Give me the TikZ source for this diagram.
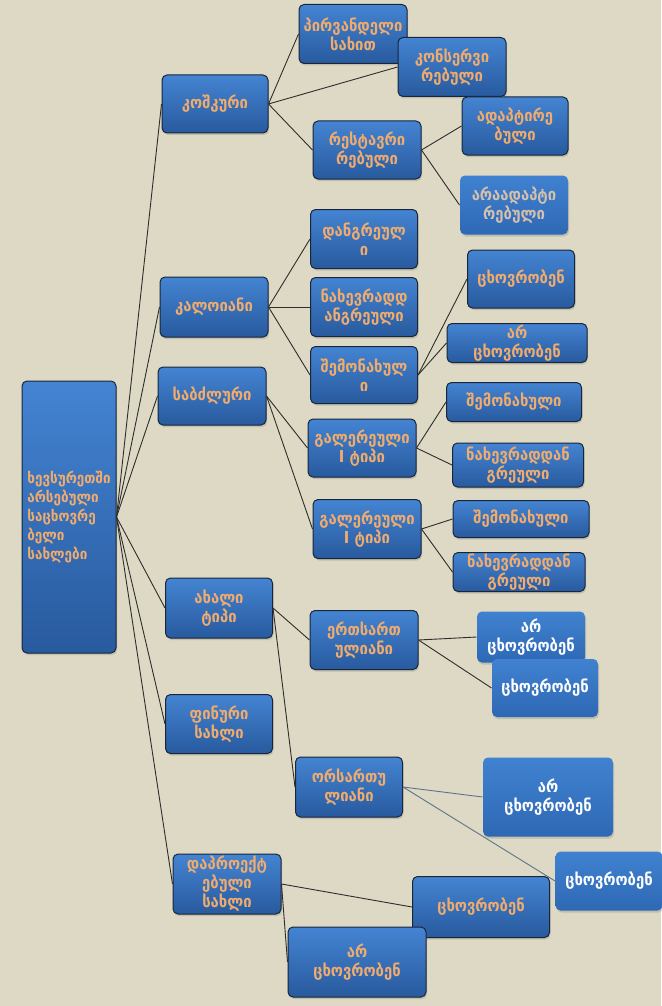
\documentclass[tikz,border=0pt]{standalone}
\usepackage{fontspec}
\newfontfamily\geo{DejaVu Sans Condensed}
\usetikzlibrary{shadows}
\definecolor{bgc}{RGB}{221,217,196}
\definecolor{boxtop}{RGB}{68,132,210}
\definecolor{boxbot}{RGB}{40,90,158}
\definecolor{lighttop}{RGB}{64,130,208}
\definecolor{lightbot}{RGB}{46,104,180}
\definecolor{boxline}{RGB}{25,38,58}
\definecolor{txt}{RGB}{240,172,110}
\definecolor{paletxt}{RGB}{214,192,172}
\definecolor{linkc}{RGB}{45,45,45}
\definecolor{bluelink}{RGB}{95,115,140}

\begin{document}
\begin{tikzpicture}[x=1pt, y=-1pt,
  box/.style={draw=boxline, line width=1pt, rounded corners=5pt, top color=boxtop, bottom color=boxbot, text=txt, align=center, inner sep=0pt, minimum width=108pt, minimum height=58pt, font=\geo\bfseries\fontsize{16.5}{19}\selectfont, drop shadow={opacity=0.3, shadow xshift=1pt, shadow yshift=-2pt}},
  lightbox/.style={box, draw=none, top color=lighttop, bottom color=lightbot, text=white},
  link/.style={draw=linkc, line width=0.9pt}]
\fill[bgc] (0,0) rectangle (661,1006);
\useasboundingbox (0,0) rectangle (661,1006);
\node[box, minimum width=94pt, minimum height=272pt, align=left, font=\geo\bfseries\fontsize{15}{19}\selectfont] (0) at (69,517) {ხევსურეთში\\არსებული\\საცხოვრე\\ბელი\\სახლები};
\node[box, minimum width=106pt] (1) at (215,104) {კოშკური};
\node[box, minimum height=60pt] (2) at (214,307) {კალოიანი};
\node[box] (3) at (212,396) {საბძლური};
\node[box, minimum width=107pt, minimum height=60pt] (4) at (219,608) {ახალი\\ტიპი};
\node[box, minimum width=107pt, minimum height=59pt] (5) at (219,724) {ფინური\\სახლი};
\node[box, minimum height=60pt] (6) at (227,884) {დაპროექტ\\ებული\\სახლი};
\node[box, minimum height=59pt] (11) at (353,34) {პირვანდელი\\სახით};
\node[box, minimum height=59pt] (12) at (452,67) {კონსერვი\\რებული};
\node[box] (13) at (367,150) {რესტავრი\\რებული};
\node[box, minimum width=106pt] (131) at (515,126) {ადაპტირე\\ბული};
\node[lightbox, minimum height=59pt, text=paletxt] (132) at (514,205) {არაადაპტი\\რებული};
\node[box, minimum width=107pt, minimum height=59pt] (21) at (364,239) {დანგრეულ\\ი};
\node[box, minimum width=107pt, minimum height=59pt] (22) at (364,307) {ნახევრადდ\\ანგრეული};
\node[box, minimum width=107pt, minimum height=57pt] (23) at (364,375) {შემონახულ\\ი};
\node[box, minimum width=107pt] (231) at (521,279) {ცხოვრობენ};
\node[box, minimum width=140pt, minimum height=39pt] (232) at (517,343) {არ\\ცხოვრობენ};
\node[box] (31) at (362,448) {გალერეული\\I ტიპი};
\node[box, minimum width=135pt, minimum height=39pt] (311) at (514,402) {შემონახული};
\node[box, minimum width=131pt, minimum height=44pt] (312) at (518,465) {ნახევრადდან\\გრეული};
\node[box, minimum height=59pt] (32) at (367,529) {გალერეული\\I ტიპი};
\node[box, minimum width=136pt, minimum height=37pt] (321) at (521,519) {შემონახული};
\node[box, minimum width=132pt, minimum height=39pt] (322) at (519,572) {ნახევრადდან\\გრეული};
\node[box, minimum height=59pt] (41) at (364,640) {ერთსართ\\ულიანი};
\node[lightbox, minimum height=51pt] (411) at (531,637) {არ\\ცხოვრობენ};
\node[lightbox, minimum width=106pt] (412) at (545,688) {ცხოვრობენ};
\node[box, minimum width=107pt, minimum height=60pt] (42) at (349,787) {ორსართუ\\ლიანი};
\node[lightbox, minimum width=130pt, minimum height=79pt] (421) at (548,797) {არ\\ცხოვრობენ};
\node[lightbox, minimum width=107pt, minimum height=59pt] (422) at (609,881) {ცხოვრობენ};
\node[box, minimum width=137pt, minimum height=61pt] (61) at (481,907) {ცხოვრობენ};
\node[box, minimum width=138pt, minimum height=70pt] (62) at (357,962) {არ\\ცხოვრობენ};
\draw[link] (0.east) -- (1.west);
\draw[link] (0.east) -- (2.west);
\draw[link] (0.east) -- (3.west);
\draw[link] (0.east) -- (4.west);
\draw[link] (0.east) -- (5.west);
\draw[link] (0.east) -- (6.west);
\draw[link] (1.east) -- (11.west);
\draw[link] (1.east) -- (12.west);
\draw[link] (1.east) -- (13.west);
\draw[link] (13.east) -- (131.west);
\draw[link] (13.east) -- (132.west);
\draw[link] (2.east) -- (21.west);
\draw[link] (2.east) -- (22.west);
\draw[link] (2.east) -- (23.west);
\draw[link] (23.east) -- (231.west);
\draw[link] (23.east) -- (232.west);
\draw[link] (3.east) -- (31.west);
\draw[link] (3.east) -- (32.west);
\draw[link] (31.east) -- (311.west);
\draw[link] (31.east) -- (312.west);
\draw[link] (32.east) -- (321.west);
\draw[link] (32.east) -- (322.west);
\draw[link] (4.east) -- (41.west);
\draw[link] (4.east) -- (42.west);
\draw[link] (41.east) -- (411.west);
\draw[link] (41.east) -- (412.west);
\draw[link, draw=bluelink] (42.east) -- (421.west);
\draw[link, draw=bluelink] (42.east) -- (422.west);
\draw[link] (6.east) -- (61.west);
\draw[link] (6.east) -- (62.west);
\end{tikzpicture}
\end{document}
